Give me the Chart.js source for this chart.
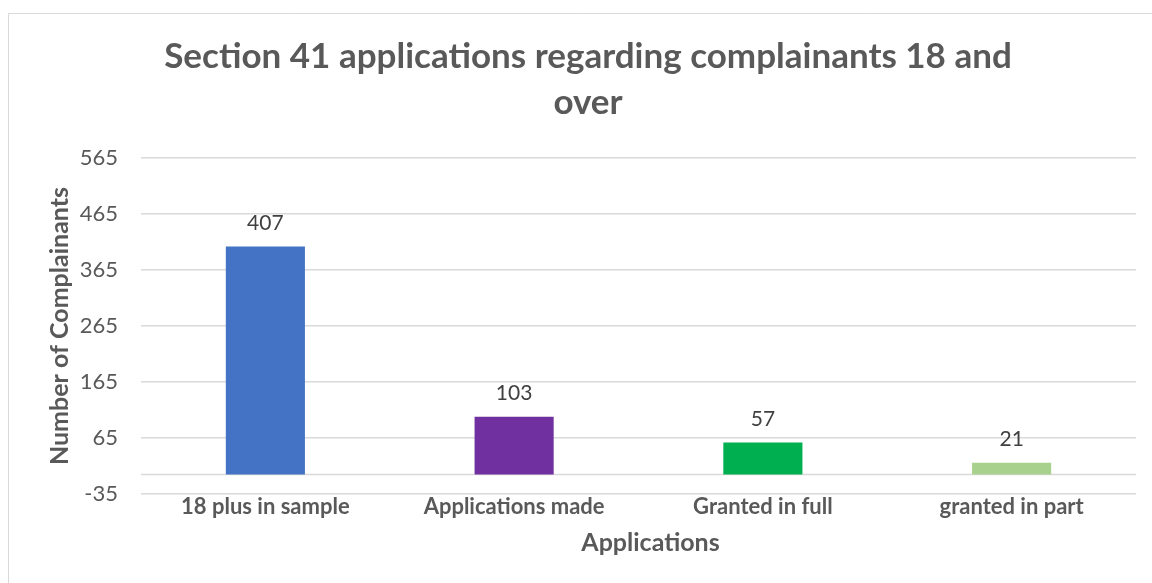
<!DOCTYPE html>
<html>
<head>
<meta charset="utf-8">
<script src="https://cdn.jsdelivr.net/npm/chart.js@4/dist/chart.umd.min.js"></script>
<style>
  html, body { margin: 0; padding: 0; background: #fff; overflow: hidden; }
  #wrap { position: relative; width: 1152px; height: 583px; }
</style>
</head>
<body>
<div id="wrap"><canvas id="chart"></canvas></div>
<script>
// Chart data
const categories = ['18 plus in sample', 'Applications made', 'Granted in full', 'granted in part'];
const complainants = [407, 103, 57, 21];
const barColors = ['#4472C4', '#7030A0', '#00B050', '#A9D18E'];
const yTicks = [-35, 65, 165, 265, 365, 465, 565];
const xAxisTitle = 'Applications';

const FONT = 'Lato, Calibri, sans-serif';
const TEXT = '#595959';

// outer frame, zero line, value labels, x axis title
const extras = {
  id: 'extras',
  beforeDraw(chart) {
    const ctx = chart.ctx;
    ctx.save();
    ctx.strokeStyle = '#d9d9d9';
    ctx.lineWidth = 1;
    ctx.beginPath();
    ctx.moveTo(8.5, 583);
    ctx.lineTo(8.5, 13.5);
    ctx.lineTo(1152, 13.5);
    ctx.stroke();
    ctx.restore();
  },
  beforeDatasetsDraw(chart) {
    const { ctx, chartArea, scales } = chart;
    const y0 = Math.round(scales.y.getPixelForValue(0)) + 0.5;
    ctx.save();
    ctx.strokeStyle = '#d9d9d9';
    ctx.lineWidth = 1.5;
    ctx.beginPath();
    ctx.moveTo(chartArea.left, y0);
    ctx.lineTo(chartArea.right, y0);
    ctx.stroke();
    ctx.restore();
  },
  afterDatasetsDraw(chart) {
    const ctx = chart.ctx;
    const meta = chart.getDatasetMeta(0);
    ctx.save();
    ctx.font = '21px ' + FONT;
    ctx.fillStyle = '#404040';
    ctx.textAlign = 'center';
    ctx.textBaseline = 'middle';
    meta.data.forEach((bar, i) => {
      ctx.fillText(String(complainants[i]), bar.x, bar.y - 23);
    });
    ctx.restore();
  },
  afterDraw(chart) {
    const { ctx, chartArea } = chart;
    ctx.save();
    ctx.font = 'bold 25px ' + FONT;
    ctx.fillStyle = TEXT;
    ctx.textAlign = 'center';
    ctx.textBaseline = 'middle';
    ctx.fillText(xAxisTitle, (chartArea.left + chartArea.right) / 2 + 12, 543);
    ctx.restore();
  }
};

new Chart(document.getElementById('chart'), {
  type: 'bar',
  data: {
    labels: categories,
    datasets: [{
      data: complainants,
      backgroundColor: barColors,
      categoryPercentage: 1,
      barPercentage: 0.318
    }]
  },
  options: {
    responsive: true,
    maintainAspectRatio: false,
    animation: false,
    layout: { padding: { left: 40, right: 16, top: 14, bottom: 0 } },
    plugins: {
      legend: { display: false },
      tooltip: { enabled: false },
      title: {
        display: true,
        text: ['Section 41 applications regarding complainants 18 and', 'over'],
        color: TEXT,
        font: { family: FONT, size: 35, weight: 'bold', lineHeight: 1.314 },
        padding: { top: 20, bottom: 32 }
      }
    },
    scales: {
      x: {
        grid: { display: false, drawTicks: false },
        border: { display: false },
        ticks: { color: TEXT, font: { family: FONT, size: 22, weight: 'bold' }, padding: 0 },
        afterFit(scale) { scale.height = 89; }
      },
      y: {
        min: -35,
        max: 565,
        afterBuildTicks(scale) { scale.ticks = yTicks.map(v => ({ value: v })); },
        grid: { color: '#d9d9d9', lineWidth: 1.5, drawTicks: false },
        border: { display: false },
        ticks: { color: TEXT, font: { family: FONT, size: 22 }, padding: 23 },
        title: {
          display: true,
          text: 'Number of Complainants',
          color: TEXT,
          font: { family: FONT, size: 25, weight: 'bold', lineHeight: 1.2 },
          padding: { top: 5, bottom: 0 }
        },
        afterFit(scale) { scale.width = 101; }
      }
    }
  },
  plugins: [extras]
});
</script>
</body>
</html>
